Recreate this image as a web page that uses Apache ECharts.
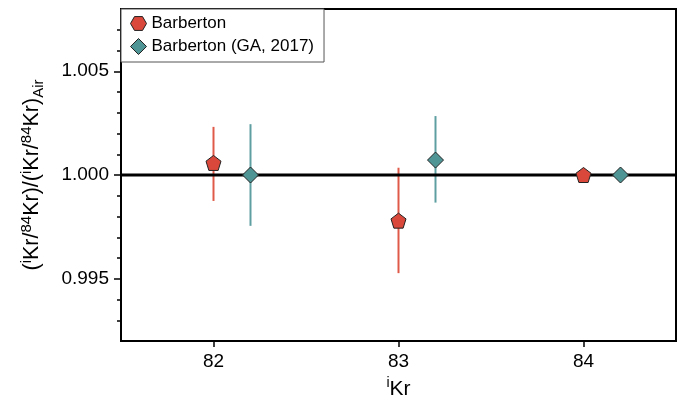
<!DOCTYPE html>
<html>
<head>
<meta charset="utf-8">
<script src="https://cdn.jsdelivr.net/npm/echarts@6/dist/echarts.min.js"></script>
<style>
  html, body { margin: 0; padding: 0; background: #fff; }
  #chart { width: 681px; height: 402px; }
</style>
</head>
<body>
<div id="chart"></div>
<script>
// ── 数据 ──
const isotopes = [82, 83, 84];
const gaOffset = 0.2;

const barbertonValue = [1.00058, 0.99780, 1.00000];
const barbertonLow   = [0.99875, 0.99527, null];
const barbertonHigh  = [1.00232, 1.00035, null];

const gaValue = [1.00000, 1.00072, 1.00000];
const gaLow   = [0.99755, 0.99867, null];
const gaHigh  = [1.00245, 1.00284, null];

const majorTicks = [0.995, 1.000, 1.005];
const minorTicks = [0.993, 0.994, 0.996, 0.997, 0.998, 0.999, 1.001, 1.002, 1.003, 1.004, 1.006, 1.007];
const referenceValue = 1.000;

const RED = '#D9483A';
const RED_BAR = '#E05A4A';
const TEAL = '#4F9596';
const TEAL_BAR = '#5E9FA1';
const FONT = '"Liberation Sans", Arial, sans-serif';

const PENTAGON = 'path://M0,-10 L9.51,-3.09 L5.88,8.09 L-5.88,8.09 L-9.51,-3.09 Z';
const HEXAGON = 'path://M-10,0 L-5,-8.66 L5,-8.66 L10,0 L5,8.66 L-5,8.66 Z';

const barbPoints = isotopes.map((x, i) => [x, barbertonValue[i]]);
const gaPoints = isotopes.map((x, i) => [x + gaOffset, gaValue[i]]);
const barbBars = isotopes.map((x, i) => [x, barbertonLow[i], barbertonHigh[i]]).filter(d => d[1] != null);
const gaBars = isotopes.map((x, i) => [x + gaOffset, gaLow[i], gaHigh[i]]).filter(d => d[1] != null);

function errorBar(color) {
  return (params, api) => {
    const x = api.value(0);
    const p1 = api.coord([x, api.value(1)]);
    const p2 = api.coord([x, api.value(2)]);
    return {
      type: 'line',
      shape: { x1: p1[0], y1: p1[1], x2: p2[0], y2: p2[1] },
      style: { stroke: color, lineWidth: 2 }
    };
  };
}

const chart = echarts.init(document.getElementById('chart'));
chart.setOption({
  animation: false,
  textStyle: { fontFamily: FONT },
  grid: {
    left: 121, right: 5, top: 9, bottom: 61, outerBoundsMode: 'none',
    show: true, borderColor: '#000', borderWidth: 2
  },
  legend: {
    orient: 'vertical', left: 121, top: 9,
    padding: [6, 10, 7, 9], itemGap: 6, itemWidth: 16, itemHeight: 16,
    backgroundColor: '#fff', borderColor: '#555', borderWidth: 1,
    textStyle: { fontSize: 17, color: '#000', fontFamily: FONT },
    data: [
      { name: 'Barberton', icon: HEXAGON, itemStyle: { color: RED, borderColor: '#222', borderWidth: 1 } },
      { name: 'Barberton (GA, 2017)', icon: 'diamond', itemStyle: { color: TEAL, borderColor: '#222', borderWidth: 1 } }
    ],
    z: 20
  },
  xAxis: {
    type: 'value', min: 81.5, max: 84.5,
    name: '{sup|i}{n|Kr}', nameLocation: 'middle', nameGap: 31,
    nameTextStyle: {
      rich: {
        n: { fontSize: 21, lineHeight: 26, color: '#000', fontFamily: FONT },
        sup: { fontSize: 14, lineHeight: 14, verticalAlign: 'top', color: '#000', fontFamily: FONT }
      }
    },
    axisLine: { lineStyle: { color: '#000', width: 2 } },
    axisTick: { customValues: isotopes, length: 6, lineStyle: { color: '#000', width: 1.5 } },
    axisLabel: { customValues: isotopes, fontSize: 19, color: '#000', margin: 11 },
    splitLine: { show: false }
  },
  yAxis: [{
    type: 'value', min: 0.992, max: 1.008,
    name: '{n|(}{sup|i}{n|Kr/}{sup|84}{n|Kr)/(}{sup|i}{n|Kr/}{sup|84}{n|Kr)}{sub|Air}',
    nameLocation: 'middle', nameGap: 75,
    nameTextStyle: {
      rich: {
        n: { fontSize: 21.5, lineHeight: 27, color: '#000', fontFamily: FONT },
        sup: { fontSize: 15, lineHeight: 15, verticalAlign: 'top', color: '#000', fontFamily: FONT },
        sub: { fontSize: 15, lineHeight: 15, verticalAlign: 'bottom', color: '#000', fontFamily: FONT }
      }
    },
    axisLine: { show: true, lineStyle: { color: '#000', width: 2 } },
    axisTick: { customValues: majorTicks, length: 7, lineStyle: { color: '#000', width: 1.5 } },
    axisLabel: { customValues: majorTicks, fontSize: 19, color: '#000', margin: 12, formatter: v => v.toFixed(3) },
    splitLine: { show: false }
  }, {
    type: 'value', min: 0.992, max: 1.008, position: 'left',
    axisLine: { show: false },
    axisTick: { show: true, customValues: minorTicks, length: 4, lineStyle: { color: '#000', width: 1.5 } },
    axisLabel: { show: false },
    splitLine: { show: false }
  }],
  series: [
    {
      type: 'custom', name: 'Barberton', renderItem: errorBar(RED_BAR),
      itemStyle: { color: RED },
      data: barbBars, encode: { x: 0, y: [1, 2] }, z: 1, silent: true
    },
    {
      type: 'custom', name: 'Barberton (GA, 2017)', renderItem: errorBar(TEAL_BAR),
      itemStyle: { color: TEAL },
      data: gaBars, encode: { x: 0, y: [1, 2] }, z: 1, silent: true
    },
    {
      type: 'line', name: 'ref', data: [[81.5, referenceValue], [84.5, referenceValue]],
      showSymbol: false, lineStyle: { color: '#000', width: 3 }, z: 2, silent: true
    },
    {
      type: 'scatter', name: 'Barberton', data: barbPoints,
      symbol: PENTAGON, symbolSize: 15,
      itemStyle: { color: RED, borderColor: '#222', borderWidth: 1, opacity: 1 }, z: 3
    },
    {
      type: 'scatter', name: 'Barberton (GA, 2017)', data: gaPoints,
      symbol: 'diamond', symbolSize: 16,
      itemStyle: { color: TEAL, borderColor: '#222', borderWidth: 1, opacity: 1 }, z: 3
    }
  ]
});
</script>
</body>
</html>
